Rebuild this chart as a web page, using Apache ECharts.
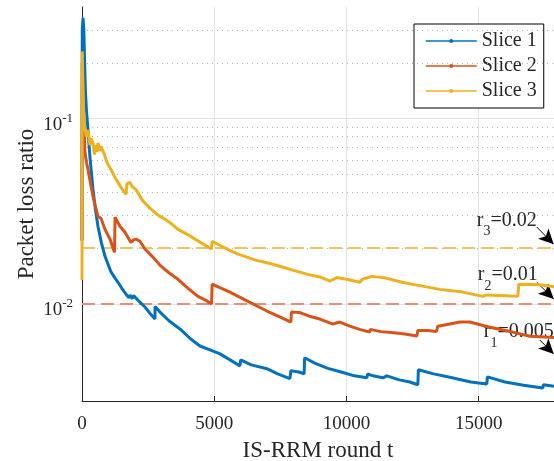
<!DOCTYPE html>
<html><head><meta charset="utf-8">
<script src="https://cdn.jsdelivr.net/npm/echarts@6/dist/echarts.min.js"></script>
<style>html,body{margin:0;padding:0;background:#fff}#c{width:554px;height:461px}</style>
</head><body><div id="c"></div>
<script>
const seriesNames = ['Slice 1', 'Slice 2', 'Slice 3'];
const seriesColors = ['#0072BD', '#D95319', '#EDB120'];
const thresholdColors = ['#5a9fd6', '#e0917a', '#efc463'];

// [round t, packet loss ratio]
const slice1 = [[0,0.022],[10,0.30],[40,0.35],[70,0.30],[100,0.20],[130,0.14],[170,0.11],[227,0.087],[300,0.062],[416,0.0415],[500,0.033],[605,0.0262],[730,0.0215],[869,0.0181],[1000,0.0162],[1096,0.0149],[1250,0.0138],[1361,0.0131],[1500,0.0122],[1663,0.0113],[1780,0.0108],[1814,0.0112],[1852,0.0113],[1900,0.0107],[1950,0.0111],[2003,0.0110],[2200,0.0102],[2381,0.00964],[2600,0.0088],[2759,0.0083],[2765,0.0097],[3000,0.0089],[3300,0.0081],[3704,0.00734],[4100,0.0065],[4460,0.00594],[4838,0.00566],[5200,0.0054],[5600,0.0050],[5972,0.00464],[6000,0.0050],[6048,0.0049],[6400,0.0047],[6993,0.00448],[7400,0.0042],[7862,0.00396],[7900,0.00437],[8200,0.0043],[8400,0.0042],[8420,0.00513],[8800,0.0048],[9300,0.0045],[9800,0.0043],[10300,0.0041],[10773,0.0040],[10800,0.0042],[11000,0.0041],[11378,0.0040],[11400,0.0041],[11529,0.0041],[12000,0.0039],[12400,0.0038],[12701,0.00367],[12720,0.00442],[13300,0.0042],[14000,0.0040],[14700,0.0038],[15309,0.00371],[15330,0.00405],[16000,0.0038],[16700,0.00365],[17426,0.00353],[17450,0.00367],[17850,0.00360]];
const slice2 = [[0,0.022],[10,0.2],[40,0.15],[80,0.09],[113,0.0657],[170,0.058],[227,0.0532],[320,0.045],[416,0.0381],[500,0.034],[605,0.0297],[718,0.029],[869,0.0253],[1058,0.0224],[1150,0.0205],[1230,0.019],[1250,0.0294],[1436,0.0263],[1625,0.0244],[1852,0.0215],[1950,0.0222],[2041,0.0224],[2192,0.0218],[2381,0.0198],[2700,0.0178],[2986,0.016],[3300,0.0147],[3629,0.0136],[4000,0.0122],[4385,0.011],[4725,0.0104],[4900,0.0100],[4920,0.0128],[5594,0.0116],[6237,0.0104],[6993,0.00917],[7500,0.0085],[7900,0.0080],[7920,0.00906],[8240,0.0090],[8600,0.0086],[8996,0.0083],[9488,0.0078],[9752,0.0080],[10130,0.0076],[10500,0.0073],[10886,0.00706],[10900,0.0073],[11300,0.0071],[11800,0.0070],[12200,0.0069],[12663,0.00673],[12700,0.0072],[13100,0.0072],[13400,0.0071],[13457,0.0076],[13910,0.0078],[14288,0.0080],[14666,0.0080],[15422,0.0075],[16292,0.00706],[16934,0.0067],[17850,0.0066]];
const slice3 = [[0,0.0135],[10,0.23],[30,0.16],[60,0.11],[100,0.09],[160,0.08],[227,0.087],[300,0.072],[350,0.078],[416,0.074],[470,0.064],[520,0.072],[560,0.066],[605,0.074],[680,0.067],[720,0.071],[794,0.071],[850,0.064],[907,0.060],[1000,0.056],[1096,0.0532],[1250,0.048],[1361,0.0453],[1500,0.042],[1663,0.039],[1700,0.0445],[1814,0.0453],[1900,0.043],[2041,0.0414],[2300,0.036],[2608,0.0325],[2900,0.030],[3137,0.0287],[3400,0.027],[3629,0.0253],[4000,0.0237],[4272,0.0224],[4600,0.021],[4900,0.0198],[4920,0.0218],[5481,0.0198],[5900,0.0186],[6237,0.0179],[6600,0.0172],[7000,0.0167],[7484,0.016],[8000,0.0152],[8505,0.0145],[8996,0.014],[9374,0.0133],[9639,0.0139],[10000,0.0136],[10508,0.0131],[10600,0.0136],[10962,0.0141],[11500,0.0138],[12100,0.0131],[12663,0.01265],[13532,0.0120],[14402,0.0116],[15158,0.0110],[15300,0.0112],[16000,0.0111],[16481,0.0110],[16520,0.0128],[17312,0.0127],[17850,0.0124]];

const thresholds = [0.005, 0.01, 0.02];
const majorGridY = [0.01, 0.1];
const minorGridY = [0.004,0.005,0.006,0.007,0.008,0.009,0.02,0.03,0.04,0.05,0.06,0.07,0.08,0.09,0.2,0.3];

// annotation texts and anchors (data coordinates)
const annotSub = ['3', '2', '1'];
const annotText = ['=0.02', '=0.01', '=0.005'];
const annotAt = [[14931, 0.0320], [14969, 0.01622], [15196, 0.0080]];
const arrowFrom = [[17199, 0.026], [17199, 0.0131], [17312, 0.0064]];
const arrowTo = [[17840, 0.0210], [17840, 0.01066], [17840, 0.00538]];

const FONT = "'Liberation Serif', 'Times New Roman', serif";
const TXT = '#262626';

const chart = echarts.init(document.getElementById('c'), null, {renderer: 'canvas'});

const dataSeries = [slice1, slice2, slice3].map((d, i) => ({
  name: seriesNames[i], type: 'line', data: d, z: 5,
  showSymbol: false, symbol: 'circle', symbolSize: 4,
  lineStyle: {color: seriesColors[i], width: 3},
  itemStyle: {color: seriesColors[i]},
  animation: false
}));

const gridSeries = {
  type: 'line', data: [], z: 1, silent: true, animation: false,
  markLine: {
    silent: true, symbol: 'none', animation: false, label: {show: false},
    data: [
      ...minorGridY.map(v => ({yAxis: v, lineStyle: {color: '#b3b3b3', width: 1, type: [1, 4]}})),
      ...majorGridY.map(v => ({yAxis: v, lineStyle: {color: '#e3e3e3', width: 1, type: 'solid'}}))
    ]
  }
};

const thresholdSeries = {
  type: 'line', data: [], z: 2, silent: true, animation: false,
  markLine: {
    silent: true, symbol: 'none', animation: false, label: {show: false},
    data: thresholds.map((v, i) => ({yAxis: v, lineStyle: {color: thresholdColors[i], width: 1.8, type: [13, 6]}}))
  }
};

const annotSeries = {
  type: 'line', data: [], z: 8, silent: true, animation: false,
  markLine: {
    silent: true, animation: false, symbol: ['none', 'arrow'], symbolSize: [11, 15],
    label: {show: false},
    lineStyle: {color: '#000', width: 1, type: 'solid'},
    data: arrowFrom.map((f, i) => [{coord: f}, {coord: arrowTo[i]}])
  },
  markPoint: {
    silent: true, animation: false, symbol: 'circle', symbolSize: 0,
    data: annotAt.map((c, i) => ({
      coord: c,
      label: {
        show: true, position: 'inside', align: 'left', verticalAlign: 'top',
        formatter: '{m|r}{s|' + annotSub[i] + '}{m|' + annotText[i] + '}',
        rich: {
          m: {fontFamily: FONT, fontSize: 20, color: TXT, lineHeight: 20, verticalAlign: 'top'},
          s: {fontFamily: FONT, fontSize: 14, color: TXT, lineHeight: 14, verticalAlign: 'top', padding: [14, 0, 0, 0]}
        }
      }
    }))
  }
};

chart.setOption({
  animation: false,
  backgroundColor: '#fff',
  grid: {left: 82, right: 0, top: 7, bottom: 60, containLabel: false, outerBoundsMode: 'none'},
  legend: {
    data: seriesNames, orient: 'vertical', left: 414, top: 24,
    backgroundColor: '#fff', borderColor: '#000', borderWidth: 1, borderRadius: 0,
    padding: [7, 7, 7, 11], itemGap: 5, itemWidth: 51, itemHeight: 5,
    textStyle: {fontFamily: FONT, fontSize: 20, color: TXT, lineHeight: 20},
    lineStyle: {width: 1.5}
  },
  xAxis: {
    type: 'value', min: 0, max: 17850, interval: 5000,
    name: 'IS-RRM round t', nameLocation: 'middle', nameGap: 38, nameMoveOverlap: false,
    nameTextStyle: {fontFamily: FONT, fontSize: 23, color: TXT},
    axisLine: {show: true, lineStyle: {color: TXT, width: 1}},
    axisTick: {show: true, inside: true, length: 5, lineStyle: {color: TXT}},
    axisLabel: {fontFamily: FONT, fontSize: 19, color: TXT, margin: 14, showMaxLabel: false,
      formatter: function (v) { return String(v); }},
    splitLine: {show: true, lineStyle: {color: '#e3e3e3', width: 1}}
  },
  yAxis: {
    type: 'log', logBase: 10, min: 0.003, max: 0.4,
    name: 'Packet loss ratio', nameLocation: 'middle', nameGap: 44, nameRotate: 90, nameMoveOverlap: false,
    nameTextStyle: {fontFamily: FONT, fontSize: 23, color: TXT},
    axisLine: {show: true, lineStyle: {color: TXT, width: 1}},
    axisTick: {show: false},
    splitLine: {show: false},
    axisLabel: {
      margin: 9, showMinLabel: false, showMaxLabel: false,
      formatter: function (v) {
        const e = Math.round(Math.log10(v));
        if (Math.abs(v - Math.pow(10, e)) / v > 1e-6) return '';
        return '{m|10}{s|' + e + '}';
      },
      rich: {
        m: {fontFamily: FONT, fontSize: 19, color: TXT, lineHeight: 19, verticalAlign: 'top', padding: [6, 0, 0, 0]},
        s: {fontFamily: FONT, fontSize: 13, color: TXT, lineHeight: 13, verticalAlign: 'top', padding: [3, 0, 0, 0]}
      }
    }
  },
  series: [gridSeries, thresholdSeries, ...dataSeries, annotSeries]
});
</script></body></html>
